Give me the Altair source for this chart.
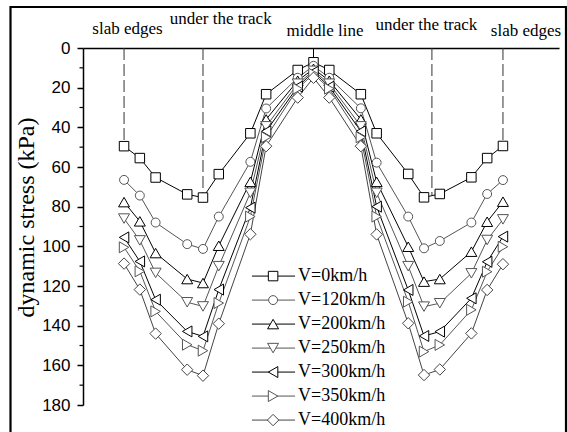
import altair as alt
import pandas as pd

# ---- data -------------------------------------------------------------
x_pos = [0, 1, 2, 4, 5, 6, 8, 9, 11, 12, 13, 15, 16, 18, 19, 20, 22, 23, 24]

series_names = ["V=0km/h", "V=120km/h", "V=200km/h", "V=250km/h",
                "V=300km/h", "V=350km/h", "V=400km/h"]

v0 = [49.5, 55.5, 65.3, 73.8, 75.4, 63.6, 43.0, 23.3, 11.1, 7.2, 11.1, 23.3, 43.0, 63.5, 75.3, 73.6, 65.2, 55.5, 49.4]
v120 = [66.5, 74.4, 88.0, 98.9, 101.3, 85.0, 57.4, 30.5, 15.0, 9.0, 15.0, 30.4, 57.8, 85.0, 101.0, 97.3, 88.0, 73.6, 66.6]
v200 = [77.7, 87.4, 103.4, 116.5, 118.5, 99.7, 67.5, 36.0, 16.5, 10.5, 16.5, 36.0, 67.5, 100.2, 117.8, 116.5, 102.7, 87.6, 77.5]
v250 = [86.0, 97.0, 113.4, 128.2, 130.3, 110.0, 73.0, 39.5, 18.0, 11.5, 18.0, 39.5, 73.0, 110.0, 130.4, 128.7, 113.6, 96.8, 86.4]
v300 = [95.5, 107.6, 126.9, 142.9, 145.4, 121.8, 80.5, 42.0, 19.5, 12.0, 19.5, 42.0, 80.0, 122.0, 145.2, 143.0, 126.2, 107.8, 95.1]
v350 = [100.5, 112.6, 132.8, 149.6, 152.6, 128.6, 85.0, 45.0, 20.5, 13.0, 20.5, 45.0, 85.0, 127.9, 153.1, 149.7, 132.0, 112.8, 100.2]
v400 = [108.7, 121.8, 144.0, 162.2, 165.2, 139.0, 93.9, 49.5, 25.0, 15.0, 25.0, 49.5, 94.0, 138.8, 164.9, 162.1, 143.9, 122.0, 109.0]
all_vals = [v0, v120, v200, v250, v300, v350, v400]

# annotations (labels and reference positions)
ann_labels = ["slab edges", "under the track", "middle line", "under the track", "slab edges"]
ann_x = [0.22, 6.12, 12.73, 19.15, 25.46]
ann_y = [-7.1, -12.1, -6.0, -9.1, -6.0]

dash_x = [0, 5, 19.5, 24]
dash_end = [49.5, 75.4, 74.5, 49.4]
mid_x = [12]
mid_end = [5]

y_major = list(range(0, 181, 20))
y_minor = list(range(10, 180, 20))

# ---- style ------------------------------------------------------------
colors = ["#000000", "#555555", "#000000", "#555555", "#000000", "#555555", "#444444"]
shapes = ["square", "circle", "triangle-up", "triangle-down", "triangle-left", "triangle-right", "diamond"]
sizes = [90, 80, 120, 120, 120, 120, 130]

rows = []
for name, vals in zip(series_names, all_vals):
    for x, v in zip(x_pos, vals):
        rows.append({"series": name, "x": x, "y": v})
df = pd.DataFrame(rows)

xscale = alt.Scale(domain=[-2.6, 27.55], nice=False, zero=False)
yscale = alt.Scale(domain=[0, 180], reverse=True, nice=False, zero=False)
cscale = alt.Scale(domain=series_names, range=colors)

xaxis = alt.Axis(orient="top", labels=False, ticks=False, grid=False, title="",
                 domain=True, domainColor="black", domainWidth=1.5)
yaxis = alt.Axis(orient="left", values=y_major, tickSize=6, tickWidth=1.5, tickColor="black",
                 ticks=True, labels=True, domain=True, labelOverlap=False,
                 domainColor="black", domainWidth=1.5, grid=False,
                 labelFont="Liberation Sans", labelFontSize=17, labelColor="black",
                 labelPadding=7,
                 title="dynamic stress (kPa)", titleFont="Liberation Serif",
                 titleFontSize=24, titleFontWeight="normal", titleColor="black",
                 titleAngle=270, titleBaseline="bottom", titleAlign="center",
                 titleX=-45, titleY=169)


def X(field):
    return alt.X(field, type="quantitative", scale=xscale, axis=xaxis)


def Y(field):
    return alt.Y(field, type="quantitative", scale=yscale, axis=yaxis)


lines = alt.Chart(df).mark_line(strokeWidth=1).encode(
    x=X("x"), y=Y("y"),
    stroke=alt.Stroke("series:N", scale=cscale, legend=None),
    detail="series:N",
)
layers = [lines]

# dashed reference lines
dash_df = pd.DataFrame({"x": dash_x, "y": [0] * len(dash_x), "y1": dash_end})
dashes = alt.Chart(dash_df).mark_rule(color="#333333", strokeWidth=1, strokeDash=[12, 4]).encode(
    x=X("x"), y=Y("y"), y2="y1:Q",
)
mid_df = pd.DataFrame({"x": mid_x, "y": [0], "y1": mid_end})
mid = alt.Chart(mid_df).mark_rule(color="black", strokeWidth=1).encode(
    x=X("x"), y=Y("y"), y2="y1:Q",
)
layers += [dashes, mid]

# points per series
for name, shp, sz, col in zip(series_names, shapes, sizes, colors):
    pts = alt.Chart(df[df["series"] == name]).mark_point(
        shape=shp, size=sz, filled=True, fill="white", stroke=col, strokeWidth=1, opacity=1
    ).encode(x=X("x"), y=Y("y"))
    layers.append(pts)

# minor ticks on y axis
minor_df = pd.DataFrame({"y": y_minor})
minor = alt.Chart(minor_df).mark_rule(color="black", strokeWidth=1.2).encode(
    y=Y("y"), x=alt.value(-3.5), x2=alt.value(0),
)
layers.append(minor)

# annotations
ann_df = pd.DataFrame({"label": ann_labels, "x": ann_x, "y": ann_y})
ann = alt.Chart(ann_df).mark_text(font="Liberation Serif", fontSize=17, color="black",
                                  align="center", baseline="alphabetic").encode(
    x=X("x"), y=Y("y"), text="label:N",
)
layers.append(ann)

# legend (manual)
leg_rows = []
for i, name in enumerate(series_names):
    leg_rows.append({"series": name, "y": 115.0 + 12.1 * i,
                     "x": 8.1, "x2": 10.83, "xm": 9.44, "xt": 11.02})
leg_df = pd.DataFrame(leg_rows)
leg_lines = alt.Chart(leg_df).mark_rule(strokeWidth=1).encode(
    x=X("x"), x2="x2:Q", y=Y("y"),
    stroke=alt.Stroke("series:N", scale=cscale, legend=None),
)
layers.append(leg_lines)
for name, shp, sz, col in zip(series_names, shapes, sizes, colors):
    lp = alt.Chart(leg_df[leg_df["series"] == name]).mark_point(
        shape=shp, size=sz, filled=True, fill="white", stroke=col, strokeWidth=1, opacity=1
    ).encode(x=X("xm"), y=Y("y"))
    layers.append(lp)
leg_text = alt.Chart(leg_df).mark_text(font="Liberation Serif", fontSize=18, color="black",
                                       align="left", baseline="middle").encode(
    x=X("xt"), y=Y("y"), text="series:N",
)
layers.append(leg_text)

# outer figure frame
frame = alt.Chart(pd.DataFrame({"a": [0]})).mark_rect(
    filled=False, stroke="black", strokeWidth=2.2
).encode(
    x=alt.value(-72.5), x2=alt.value(483), y=alt.value(-41), y2=alt.value(400),
)
layers.append(frame)

chart = alt.layer(*layers).properties(
    width=476, height=357,
    autosize=alt.AutoSizeParams(type="none"),
    padding={"left": 83, "top": 48, "right": 8, "bottom": 27},
    background="white",
).configure_view(stroke=None).configure_axis(labelOverlap=False)

chart.save("out.html", embed_options={"renderer": "svg", "actions": False})
